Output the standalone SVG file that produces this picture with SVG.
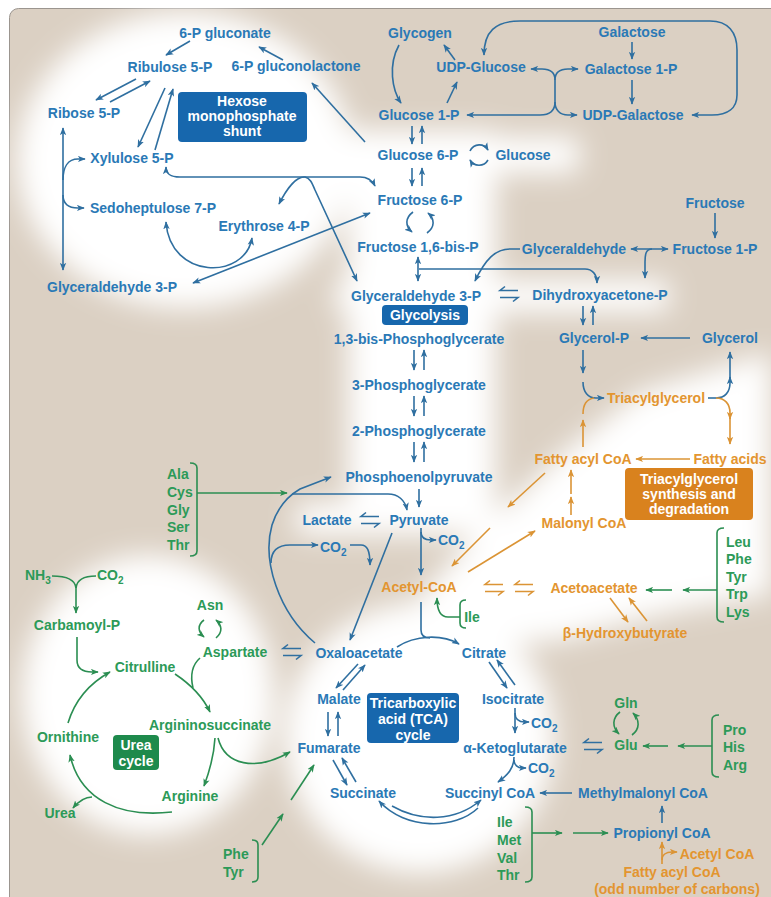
<svg xmlns="http://www.w3.org/2000/svg" xmlns:xlink="http://www.w3.org/1999/xlink" width="771" height="897" viewBox="0 0 771 897">
<style>
text{font-family:"Liberation Sans",Arial,sans-serif;font-weight:bold;font-size:14px}
.b{fill:#2a79b6}.g{fill:#2c9a58}.o{fill:#e39530}.w{fill:#fff}
.m{text-anchor:middle}
.lb{stroke:#2f6fa0;fill:none;stroke-width:1.6}
.lg{stroke:#2b8e52;fill:none;stroke-width:1.6}
.lo{stroke:#db9435;fill:none;stroke-width:1.6}
.eb{marker-end:url(#ab)}.sb{marker-start:url(#ab)}
.eg{marker-end:url(#ag)}.eo{marker-end:url(#ao)}
</style>
<defs>
<filter id="blur" x="-30%" y="-30%" width="160%" height="160%"><feGaussianBlur stdDeviation="14"/></filter>
<marker id="ab" viewBox="0 0 10 8" refX="9" refY="4" markerWidth="8" markerHeight="7" markerUnits="userSpaceOnUse" orient="auto-start-reverse"><path d="M0,0 L10,4 L0,8 L2.5,4 Z" fill="#2f6fa0"/></marker>
<marker id="ag" viewBox="0 0 10 8" refX="9" refY="4" markerWidth="8" markerHeight="7" markerUnits="userSpaceOnUse" orient="auto-start-reverse"><path d="M0,0 L10,4 L0,8 L2.5,4 Z" fill="#2b8e52"/></marker>
<marker id="ao" viewBox="0 0 10 8" refX="9" refY="4" markerWidth="8" markerHeight="7" markerUnits="userSpaceOnUse" orient="auto-start-reverse"><path d="M0,0 L10,4 L0,8 L2.5,4 Z" fill="#db9435"/></marker>
<g id="hpb" class="lb" stroke-width="1.5"><path d="M9,-3.5 L-9,-3.5 L-4,-7.5"/><path d="M-9,3.5 L9,3.5 L4,7.5"/></g>
<g id="hpo" class="lo" stroke-width="1.5"><path d="M9,-3.5 L-9,-3.5 L-4,-7.5"/><path d="M-9,3.5 L9,3.5 L4,7.5"/></g>
</defs>

<rect x="0" y="0" width="771" height="897" fill="#ffffff"/>
<rect x="9.5" y="8.5" width="775" height="900" rx="9" fill="#dbd0c3" stroke="#9b958f" stroke-width="1"/>

<g id="glow" fill="#ffffff" filter="url(#blur)">
<ellipse cx="185" cy="160" rx="168" ry="148"/>
<rect x="348" y="130" width="148" height="400"/>
<rect x="345" y="137" width="235" height="36" rx="10"/>
<rect x="335" y="280" width="335" height="32" rx="10"/>
<rect x="295" y="503" width="200" height="32" rx="10"/>
<path d="M400,620 L470,540 L560,455 L640,392 L771,352 L771,595 L680,610 L560,640 L430,648 Z"/>
<ellipse cx="148" cy="695" rx="126" ry="140"/>
<circle cx="420" cy="738" r="135"/>
</g>

<g id="connectors">
<!-- HMS -->
<path class="lb eb" d="M190,41 L166,55"/>
<path class="lb eb" d="M283,60 L259,47"/>
<path class="lb eb" d="M365,142 L312,83"/>
<path class="lb eb" d="M136,79 L96,100"/>
<path class="lb eb" d="M110,102 L150,81"/>
<path class="lb eb" d="M165,88 L138,147"/>
<path class="lb eb" d="M155,150 L173,89"/>
<path class="lb eb sb" d="M63,128 L63,270"/>
<path class="lb eb" d="M63,180 C63,167 68,159 78,159 L85,159"/>
<path class="lb eb" d="M63,195 C63,203 68,208 78,208 L84,208"/>
<path class="lb eb sb" d="M166,167 C166,174 170,177 180,177 L360,177 C368,177 372,180 375,186"/>
<path class="lb eb sb" d="M370,213 L193,283"/>
<path class="lb eb sb" d="M166,222 C170,280 245,280 252,238"/>
<path class="lb eb sb" d="M279,204 C286,190 296,176 305,177 C310,178 312,183 315,190 L357,281"/>
<!-- glycogen / galactose -->
<path class="lb eb" d="M399,45 C388,65 392,90 401,103"/>
<path class="lb eb" d="M447,103 L457,82"/>
<path class="lb eb" d="M455,60 L444,45"/>
<path class="lb eb sb" d="M484,55 C484,32 495,21 520,21 L710,21 C728,21 737,32 737,50 L737,95 C737,108 728,115 712,115 L692,115"/>
<path class="lb eb" d="M555,80 C555,72 550,69 542,69 L531,69"/>
<path class="lb eb" d="M555,80 C555,72 560,69 568,69 L578,69"/>
<path class="lb" d="M555,80 L555,102"/>
<path class="lb eb" d="M555,102 C555,110 550,115 540,115 L467,115"/>
<path class="lb eb" d="M555,102 C555,110 560,115 568,115 L577,115"/>
<path class="lb eb" d="M632,42 L632,59"/>
<path class="lb eb" d="M632,80 L632,104"/>
<!-- glycolysis -->
<path class="lb eb" d="M412,126 L412,144"/>
<path class="lb eb" d="M422,144 L422,126"/>
<path class="lb eb" d="M470,151 C474,143 484,143 488,150"/>
<path class="lb eb" d="M488,160 C484,167 474,167 470,160"/>
<path class="lb eb" d="M412,168 L412,186"/>
<path class="lb eb" d="M422,186 L422,168"/>
<path class="lb eb" d="M413,212 C405,218 405,226 412,232"/>
<path class="lb eb" d="M427,233 C435,227 435,219 428,213"/>
<path class="lb eb sb" d="M418,257 L418,281"/>
<path class="lb eb" d="M419,269 L585,269 C592,269 597,274 597,283"/>
<path class="lb eb" d="M520,249 L510,249 C495,249 485,260 475,281"/>
<path class="lb eb sb" d="M631,249 L668,249"/>
<path class="lb eb" d="M652,249 C646,249 645,254 645,262 L645,278"/>
<path class="lb eb" d="M715,213 L715,238"/>
<use xlink:href="#hpb" x="509" y="294"/>
<path class="lb eb" d="M583,306 L583,325"/>
<path class="lb eb" d="M593,325 L593,306"/>
<path class="lb eb" d="M690,338 L641,338"/>
<path class="lb eb" d="M583,350 L583,373"/>
<path class="lb eb" d="M583,382 C583,392 588,398 596,398 L604,398"/>
<path class="lo eo" d="M583,447 L583,420"/>
<path class="lo" d="M583,414 C583,404 587,399 594,398"/>
<path class="lb" d="M708,398 L716,398"/>
<path class="lb eb" d="M716,398 C725,398 730,392 730,383 L730,377"/>
<path class="lb eb" d="M730,379 L730,352"/>
<path class="lo eo" d="M716,398 C725,398 730,404 730,413 L730,419"/>
<path class="lo eo" d="M730,417 L730,444"/>
<path class="lo eo" d="M690,459 L636,459"/>
<path class="lo eo" d="M571,515 L571,497"/>
<path class="lo eo" d="M571,494 L571,470"/>
<path class="lo eo" d="M545,473 L508,507"/>
<path class="lo eo" d="M490,528 L452,566"/>
<path class="lo eo" d="M468,572 L535,531"/>
<use xlink:href="#hpo" x="494" y="588"/>
<use xlink:href="#hpo" x="524" y="588"/>
<path class="lo eo" d="M610,598 L628,622"/>
<path class="lo eo" d="M647,621 L629,598"/>
<path class="lg eg" d="M717,590 L683,590"/>
<path class="lg eg" d="M672,590 L646,590"/>
<path class="lb eb" d="M414,350 L414,370"/>
<path class="lb eb" d="M424,370 L424,350"/>
<path class="lb eb" d="M414,396 L414,416"/>
<path class="lb eb" d="M424,416 L424,396"/>
<path class="lb eb" d="M414,442 L414,462"/>
<path class="lb eb" d="M424,462 L424,442"/>
<path class="lb eb" d="M419,489 L419,507"/>
<use xlink:href="#hpb" x="370" y="520"/>
<path class="lb eb" d="M421,528 L421,575"/>
<path class="lb eb" d="M421,532 C421,538 425,540 431,540 L436,540"/>
<path class="lb" d="M421,602 L421,630 C421,636 424,638 430,638"/>
<path class="lb eb" d="M397,647 C415,635 442,634 459,644"/>
<path class="lb eb" d="M392,533 L350,640"/>
<path class="lb eb" d="M315,643 C278,612 262,560 272,525 C278,506 288,496 300,489 L331,477"/>
<path class="lb eb" d="M271,563 C271,551 278,545 290,545 L318,545"/>
<path class="lb eb" d="M350,545 L361,545 C367,545 370,550 370,565"/>
<path class="lg eg" d="M197,493 L287,493"/>
<path class="lb eb" d="M292,494 L388,494 C398,494 405,500 407,510"/>
<path class="lg eg" d="M460,617 L448,617 C441,617 437,612 437,598"/>
<!-- TCA -->
<use xlink:href="#hpb" x="292" y="652"/>
<path class="lb eb" d="M358,664 L336,688"/>
<path class="lb eb" d="M343,690 L365,665"/>
<path class="lb eb" d="M328,712 L328,736"/>
<path class="lb eb" d="M338,736 L338,712"/>
<path class="lb eb" d="M333,760 L347,785"/>
<path class="lb eb" d="M356,782 L342,758"/>
<path class="lb eb" d="M478,808 C455,830 405,830 379,801"/>
<path class="lb eb" d="M392,806 C420,822 455,822 481,800"/>
<path class="lb eb" d="M489,662 L507,688"/>
<path class="lb eb" d="M515,685 L497,660"/>
<path class="lb eb" d="M515,708 L515,733"/>
<path class="lb eb" d="M515,713 C515,719 519,722 525,722 L529,722"/>
<path class="lb eb" d="M514,757 C514,768 508,775 498,782"/>
<path class="lb eb" d="M514,760 C514,765 518,768 522,768 L526,768"/>
<use xlink:href="#hpb" x="593" y="746"/>
<path class="lg eg" d="M620,712 C612,718 612,727 619,734"/>
<path class="lg eg" d="M632,735 C640,729 640,720 633,713"/>
<path class="lg eg" d="M712,746 L678,746"/>
<path class="lg eg" d="M668,746 L643,746"/>
<path class="lb eb" d="M572,793 L540,793"/>
<path class="lb eb" d="M662,823 L662,806"/>
<path class="lg eg" d="M532,833 L562,833"/>
<path class="lg eg" d="M573,833 L608,833"/>
<path class="lo eo" d="M662,864 L662,842"/>
<path class="lo eo" d="M662,860 C662,855 666,852 672,852 L677,852"/>
<path class="lg eg" d="M262,845 L283,814"/>
<path class="lg eg" d="M291,800 L314,765"/>
<!-- urea -->
<path class="lg" d="M52,576 C64,576 75,578 76,588"/>
<path class="lg" d="M96,576 C88,576 77,578 76,588"/>
<path class="lg eg" d="M76,586 L76,613"/>
<path class="lg eg" d="M77,637 L77,660 C77,668 82,672 92,672 L98,672"/>
<path class="lg eg" d="M68,723 C75,700 90,683 110,672"/>
<path class="lg eg" d="M175,674 C190,684 202,695 210,712"/>
<path class="lg" d="M200,658 C192,665 190,675 193,688"/>
<path class="lg eg" d="M215,738 C214,755 210,770 204,786"/>
<path class="lg eg" d="M218,738 C225,765 255,772 290,752"/>
<path class="lg eg" d="M172,812 C120,818 80,800 70,755"/>
<path class="lg eg" d="M92,797 C85,797 78,802 73,808"/>
<path class="lg eg" d="M204,620 C197,625 198,632 204,637"/>
<path class="lg eg" d="M216,638 C223,632 222,625 216,620"/>
<!-- brackets -->
<path class="lg" d="M190,463 Q197,463 197,468 L197,551 Q197,556 190,556"/>
<path class="lg" d="M724,528 Q717,528 717,533 L717,617 Q717,622 724,622"/>
<path class="lg" d="M466,600 Q460,600 460,605 L460,623 Q460,628 466,628"/>
<path class="lg" d="M719,715 Q712,715 712,720 L712,772 Q712,777 719,777"/>
<path class="lg" d="M525,807 Q532,807 532,812 L532,877 Q532,882 525,882"/>
<path class="lg" d="M252,840 Q258,840 258,845 L258,877 Q258,882 252,882"/>
</g>

<g id="n-hms-box"><rect x="178" y="92" width="129" height="50" rx="4" fill="#1767ad"/><text class="w m" x="242" y="106" font-size="13">Hexose</text><text class="w m" x="242" y="121" font-size="13">monophosphate</text><text class="w m" x="242" y="136" font-size="13">shunt</text></g>
<g id="n-glycolysis-box"><rect x="382" y="305" width="86" height="20" rx="4" fill="#1767ad"/><text class="w m" x="425" y="320">Glycolysis</text></g>
<g id="n-tag-box"><rect x="625" y="468" width="128" height="52" rx="4" fill="#d9821e"/><text class="w m" x="689" y="484">Triacylglycerol</text><text class="w m" x="689" y="499">synthesis and</text><text class="w m" x="689" y="514">degradation</text></g>
<g id="n-tca-box"><rect x="367" y="693" width="92" height="50" rx="4" fill="#1767ad"/><text class="w m" x="413" y="708">Tricarboxylic</text><text class="w m" x="413" y="724">acid (TCA)</text><text class="w m" x="413" y="740">cycle</text></g>
<g id="n-urea-box"><rect x="113" y="735" width="46" height="35" rx="4" fill="#1e8a4c"/><text class="w m" x="136" y="750">Urea</text><text class="w m" x="136" y="766">cycle</text></g>

<g id="n-6pgluconate"><text class="b m" x="225" y="38">6-P gluconate</text></g>
<g id="n-ribulose"><text class="b m" x="170" y="72">Ribulose 5-P</text></g>
<g id="n-6pglactone"><text class="b m" x="296" y="71">6-P gluconolactone</text></g>
<g id="n-ribose"><text class="b m" x="84" y="118">Ribose 5-P</text></g>
<g id="n-xylulose"><text class="b m" x="132" y="163">Xylulose 5-P</text></g>
<g id="n-sedo"><text class="b m" x="153" y="213">Sedoheptulose 7-P</text></g>
<g id="n-erythrose"><text class="b m" x="264" y="231">Erythrose 4-P</text></g>
<g id="n-g3p-left"><text class="b m" x="112" y="292">Glyceraldehyde 3-P</text></g>
<g id="n-glycogen"><text class="b m" x="420" y="38">Glycogen</text></g>
<g id="n-udpglc"><text class="b m" x="481" y="72">UDP-Glucose</text></g>
<g id="n-galactose"><text class="b m" x="632" y="37">Galactose</text></g>
<g id="n-gal1p"><text class="b m" x="631" y="74">Galactose 1-P</text></g>
<g id="n-udpgal"><text class="b m" x="633" y="120">UDP-Galactose</text></g>
<g id="n-glc1p"><text class="b m" x="419" y="120">Glucose 1-P</text></g>
<g id="n-glc6p"><text class="b m" x="418" y="160">Glucose 6-P</text></g>
<g id="n-glucose"><text class="b m" x="523" y="160">Glucose</text></g>
<g id="n-f6p"><text class="b m" x="420" y="205">Fructose 6-P</text></g>
<g id="n-fructose"><text class="b m" x="715" y="208">Fructose</text></g>
<g id="n-f16bp"><text class="b m" x="418" y="252">Fructose 1,6-bis-P</text></g>
<g id="n-glyceraldehyde"><text class="b m" x="574" y="254">Glyceraldehyde</text></g>
<g id="n-f1p"><text class="b m" x="715" y="254">Fructose 1-P</text></g>
<g id="n-g3p"><text class="b m" x="416" y="301">Glyceraldehyde 3-P</text></g>
<g id="n-dhap"><text class="b m" x="600" y="300">Dihydroxyacetone-P</text></g>
<g id="n-13bpg"><text class="b m" x="419" y="344">1,3-bis-Phosphoglycerate</text></g>
<g id="n-glycerolp"><text class="b m" x="594" y="343">Glycerol-P</text></g>
<g id="n-glycerol"><text class="b m" x="730" y="343">Glycerol</text></g>
<g id="n-3pg"><text class="b m" x="419" y="390">3-Phosphoglycerate</text></g>
<g id="n-2pg"><text class="b m" x="419" y="436">2-Phosphoglycerate</text></g>
<g id="n-pep"><text class="b m" x="419" y="482">Phosphoenolpyruvate</text></g>
<g id="n-lactate"><text class="b m" x="327" y="525">Lactate</text></g>
<g id="n-pyruvate"><text class="b m" x="419" y="525">Pyruvate</text></g>
<g id="n-co2-a"><text class="b" x="438" y="545">CO<tspan dy="4" font-size="10">2</tspan></text></g>
<g id="n-co2-b"><text class="b" x="320" y="552">CO<tspan dy="4" font-size="10">2</tspan></text></g>
<g id="n-oaa"><text class="b m" x="359" y="658">Oxaloacetate</text></g>
<g id="n-citrate"><text class="b m" x="484" y="658">Citrate</text></g>
<g id="n-malate"><text class="b m" x="339" y="704">Malate</text></g>
<g id="n-isocitrate"><text class="b m" x="513" y="704">Isocitrate</text></g>
<g id="n-fumarate"><text class="b m" x="329" y="753">Fumarate</text></g>
<g id="n-akg"><text class="b m" x="515" y="753">α-Ketoglutarate</text></g>
<g id="n-co2-c"><text class="b" x="531" y="728">CO<tspan dy="4" font-size="10">2</tspan></text></g>
<g id="n-co2-d"><text class="b" x="528" y="773">CO<tspan dy="4" font-size="10">2</tspan></text></g>
<g id="n-succinate"><text class="b m" x="363" y="798">Succinate</text></g>
<g id="n-succoa"><text class="b m" x="490" y="798">Succinyl CoA</text></g>
<g id="n-mmcoa"><text class="b m" x="643" y="798">Methylmalonyl CoA</text></g>
<g id="n-propcoa"><text class="b m" x="662" y="838">Propionyl CoA</text></g>

<g id="n-tag"><text class="o" x="607" y="403">Triacylglycerol</text></g>
<g id="n-facoa"><text class="o m" x="583" y="464">Fatty acyl CoA</text></g>
<g id="n-fa"><text class="o m" x="730" y="464">Fatty acids</text></g>
<g id="n-malcoa"><text class="o m" x="584" y="528">Malonyl CoA</text></g>
<g id="n-acetylcoa"><text class="o m" x="419" y="592">Acetyl-CoA</text></g>
<g id="n-acetoacetate"><text class="o m" x="594" y="593">Acetoacetate</text></g>
<g id="n-bhb"><text class="o m" x="625" y="638">β-Hydroxybutyrate</text></g>
<g id="n-acetylcoa2"><text class="o m" x="717" y="859">Acetyl CoA</text></g>
<g id="n-facoa-odd"><text class="o m" x="672" y="877">Fatty acyl CoA</text><text class="o m" x="677" y="894" font-size="13">(odd number of carbons)</text></g>

<g id="n-aa1"><text class="g" x="167" y="479">Ala</text><text class="g" x="167" y="497">Cys</text><text class="g" x="167" y="515">Gly</text><text class="g" x="167" y="532">Ser</text><text class="g" x="167" y="550">Thr</text></g>
<g id="n-aa2"><text class="g" x="726" y="547">Leu</text><text class="g" x="726" y="564">Phe</text><text class="g" x="726" y="582">Tyr</text><text class="g" x="726" y="599">Trp</text><text class="g" x="726" y="617">Lys</text></g>
<g id="n-nh3"><text class="g" x="25" y="580">NH<tspan dy="4" font-size="10">3</tspan></text></g>
<g id="n-co2-u"><text class="g" x="97" y="580">CO<tspan dy="4" font-size="10">2</tspan></text></g>
<g id="n-asn"><text class="g m" x="210" y="610">Asn</text></g>
<g id="n-carbp"><text class="g m" x="77" y="630">Carbamoyl-P</text></g>
<g id="n-aspartate"><text class="g m" x="235" y="657">Aspartate</text></g>
<g id="n-citrulline"><text class="g m" x="145" y="672">Citrulline</text></g>
<g id="n-ile1"><text class="g m" x="472" y="622">Ile</text></g>
<g id="n-gln"><text class="g m" x="626" y="708">Gln</text></g>
<g id="n-argsucc"><text class="g m" x="210" y="730">Argininosuccinate</text></g>
<g id="n-ornithine"><text class="g m" x="68" y="742">Ornithine</text></g>
<g id="n-glu"><text class="g m" x="626" y="750">Glu</text></g>
<g id="n-aa3"><text class="g" x="723" y="735">Pro</text><text class="g" x="723" y="752">His</text><text class="g" x="723" y="770">Arg</text></g>
<g id="n-arginine"><text class="g m" x="190" y="801">Arginine</text></g>
<g id="n-urea"><text class="g m" x="60" y="818">Urea</text></g>
<g id="n-aa4"><text class="g" x="497" y="827">Ile</text><text class="g" x="497" y="845">Met</text><text class="g" x="497" y="863">Val</text><text class="g" x="497" y="880">Thr</text></g>
<g id="n-aa5"><text class="g" x="223" y="859">Phe</text><text class="g" x="223" y="877">Tyr</text></g>
</svg>
